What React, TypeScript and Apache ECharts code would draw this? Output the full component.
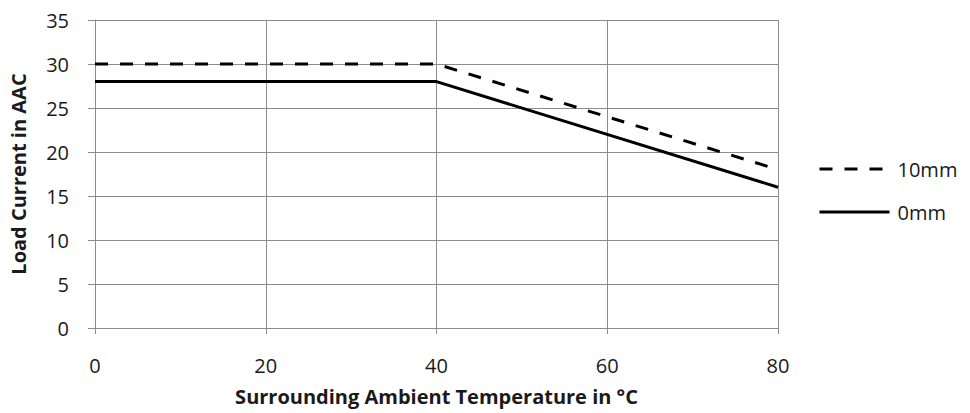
import React, { useEffect, useRef } from "react";
import * as echarts from "echarts";

const seriesNames = ["10mm", "0mm"];
const temps10mm = [0, 40, 80];
const load10mm = [30, 30, 18];
const temps0mm = [0, 40, 80];
const load0mm = [28, 28, 16];

const FONT = "'Open Sans', sans-serif";
const TXT = "#1a1a1a";
const GRID = "#8c8c8c";

export default function App() {
  const ref = useRef<HTMLDivElement>(null);
  useEffect(() => {
    if (!ref.current) return;
    const chart = echarts.init(ref.current, undefined, { renderer: "svg" });
    chart.setOption({
      animation: false,
      backgroundColor: "#ffffff",
      textStyle: { fontFamily: FONT },
      grid: { left: 94, right: 192, top: 20, bottom: 85 },
      legend: {
        data: seriesNames,
        orient: "vertical",
        left: 813,
        top: 154,
        itemWidth: 70,
        itemHeight: 20,
        itemGap: 23,
        itemStyle: { opacity: 0 },
        lineStyle: { width: 3, color: "#000" },
        textStyle: { fontSize: 20, color: TXT, fontFamily: FONT, padding: [0, 0, 0, 3] },
      },
      xAxis: {
        type: "value",
        min: 0,
        max: 80,
        interval: 20,
        name: "Surrounding Ambient Temperature in °C",
        nameLocation: "middle",
        nameGap: 58,
        nameTextStyle: { fontSize: 20, fontWeight: "bold", color: TXT, fontFamily: FONT },
        axisLine: { show: true, lineStyle: { color: GRID, width: 1 } },
        axisTick: { show: true, length: 6, lineStyle: { color: GRID } },
        axisLabel: { fontSize: 20, color: TXT, margin: 27, fontFamily: FONT },
        splitLine: { show: true, lineStyle: { color: GRID, width: 1 } },
      },
      yAxis: {
        type: "value",
        min: 0,
        max: 35,
        interval: 5,
        name: "Load Current in AAC",
        nameLocation: "middle",
        nameGap: 67,
        nameTextStyle: { fontSize: 20, fontWeight: "bold", color: TXT, fontFamily: FONT },
        axisLine: { show: true, lineStyle: { color: GRID, width: 1 } },
        axisTick: { show: true, length: 7, lineStyle: { color: GRID } },
        axisLabel: { fontSize: 20, color: TXT, margin: 26, fontFamily: FONT },
        splitLine: { show: true, lineStyle: { color: GRID, width: 1 } },
      },
      series: [
        {
          name: seriesNames[0],
          type: "line",
          data: temps10mm.map((t, i) => [t, load10mm[i]]),
          symbol: "none",
          lineStyle: { color: "#000", width: 3, type: [13, 12] },
          itemStyle: { color: "#000" },
        },
        {
          name: seriesNames[1],
          type: "line",
          data: temps0mm.map((t, i) => [t, load0mm[i]]),
          symbol: "none",
          lineStyle: { color: "#000", width: 3, type: "solid" },
          itemStyle: { color: "#000" },
        },
      ],
    });
    return () => chart.dispose();
  }, []);
  return <div ref={ref} style={{ width: 970, height: 413, position: "fixed", left: 0, top: 0 }} />;
}
